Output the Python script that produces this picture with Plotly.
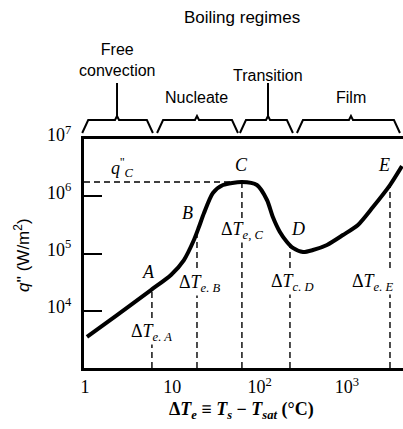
import numpy as np
import plotly.graph_objects as go

# ---- data ----
dT = [1.054, 2.33, 5.70, 9.66, 13.6, 17.7, 20.2, 23.1, 29.2, 38.1, 62.8, 93.3, 121.6,
      142, 171, 206, 241, 314, 409, 592, 902, 1340, 1991, 3119, 4276]
q = [3.48e3, 8.4e3, 2.30e4, 4.21e4, 7.69e4, 1.72e5, 2.90e5, 5.09e5, 1.14e6, 1.57e6,
     1.77e6, 1.57e6, 8.6e5, 4.35e5, 2.38e5, 1.59e5, 1.25e5, 1.06e5, 1.15e5, 1.41e5,
     2.10e5, 3.15e5, 6.49e5, 1.57e6, 3.37e6]

pt_names = ["A", "B", "C", "D", "E"]
pt_dT = [5.85, 19.2, 62.8, 223, 3119]
pt_q = [2.30e4, 2.3e5, 1.77e6, 1.35e5, 1.57e6]
pt_sub = ["e. A", "e. B", "e, C", "c. D", "e. E"]

regime_names = ["Free<br>convection", "Nucleate", "Transition", "Film"]
regime_lo = [0.93, 6.7, 59.6, 268]
regime_hi = [6.0, 56.6, 241, 4055]
regime_tip = [2.33, 19.2, 125, 1114]

y_tickvals = [1e4, 1e5, 1e6, 1e7]
y_ticktext = ["10<sup>4</sup>", "10<sup>5</sup>", "10<sup>6</sup>", "10<sup>7</sup>"]
x_tickvals = [1, 10, 100, 1000]
x_ticktext = ["1", "10", "10<sup>2</sup>", "10<sup>3</sup>"]

# ---- layout geometry ----
W, H = 403, 429
ML, MR, MT, MB = 84, 0, 139, 61
PW, PH = W - ML - MR, H - MT - MB
XR = [-0.011, 3.643]
YR = [3, 7]

def xp(v):
    return (np.log10(v) - XR[0]) / (XR[1] - XR[0])

def dxp(px):
    return px / PW

def yp_px(py):
    return (H - MB - py) / PH

serif = "Liberation Serif"
sans = "Liberation Sans"

fig = go.Figure()

# dashed vertical lines from bottom to curve
vx, vy = [], []
for x, y in zip(pt_dT, pt_q):
    vx += [x, x, None]
    vy += [1e3, y, None]
# q''_C horizontal
ic = pt_names.index("C")
vx += [10 ** XR[0], pt_dT[ic], None]
vy += [pt_q[ic], pt_q[ic], None]
fig.add_trace(go.Scatter(x=vx, y=vy, mode="lines",
                         line=dict(color="black", width=1.4, dash="6px,4px"),
                         hoverinfo="skip", showlegend=False))

# boiling curve
fig.add_trace(go.Scatter(x=dT, y=q, mode="lines",
                         line=dict(color="black", width=4, shape="spline", smoothing=0.7),
                         showlegend=False))

ann = []
C = dict(xanchor="center", yanchor="middle", showarrow=False)
# point letters
shifts = [(-3, 18), (-9, 20), (0, 17), (8, 17), (-6, 20)]
for n, x, y, (sx, sy) in zip(pt_names, pt_dT, pt_q, shifts):
    ann.append(dict(x=np.log10(x), y=np.log10(y), xref="x", yref="y", text=f"<i>{n}</i>",
                    xshift=sx, yshift=sy,
                    font=dict(family=serif, size=18, color="black"), **C))
# delta T labels
dt_pix_y = [332, 283, 230, 282, 282]
dt_xshift = [0, 3, 0, 3, -17]
for n, x, sub, py, sx in zip(pt_names, pt_dT, pt_sub, dt_pix_y, dt_xshift):
    ann.append(dict(x=np.log10(x), y=yp_px(py), xref="x", yref="paper",
                    text=f"Δ<i>T</i><sub><i>{sub}</i></sub>", xshift=sx,
                    bgcolor="white", borderpad=0,
                    font=dict(family=serif, size=18, color="black"), **C))
# q''_C label
ann.append(dict(x=xp(2.7), y=yp_px(167), xref="paper", yref="paper",
                text="<i>q</i><sup>''</sup><sub><i>C</i></sub>",
                font=dict(family=serif, size=18, color="black"), **C))

# braces
shapes = []
yb, yh, yt = yp_px(133), yp_px(120), yp_px(116)
for name, lo, hi, tip in zip(regime_names, regime_lo, regime_hi, regime_tip):
    a, b, t = xp(lo), xp(hi), xp(tip)
    path = (f"M {a} {yb} L {a + dxp(6)} {yh} L {t - dxp(2)} {yh} L {t} {yt} "
            f"L {t + dxp(2)} {yh} L {b - dxp(6)} {yh} L {b} {yb}")
    shapes.append(dict(type="path", path=path, xref="paper", yref="paper",
                       line=dict(color="black", width=2)))
    if "<br>" in name or name == "Transition":
        shapes.append(dict(type="line", xref="paper", yref="paper", x0=t, x1=t,
                           y0=yt, y1=yp_px(83), line=dict(color="black", width=2)))
        ly = yp_px(60) if "<br>" in name else yp_px(76)
        ann.append(dict(x=t, y=ly, xref="paper", yref="paper", text=name,
                        font=dict(family=sans, size=16, color="black"), **C))
    else:
        ann.append(dict(x=t, y=yp_px(98), xref="paper", yref="paper", text=name,
                        font=dict(family=sans, size=16, color="black"), **C))

ann.append(dict(x=dxp(242 - ML), y=yp_px(17), xref="paper", yref="paper",
                text="Boiling regimes",
                font=dict(family=sans, size=17, color="black"), **C))
# axis titles
ann.append(dict(x=dxp(22 - ML), y=yp_px(255), xref="paper", yref="paper",
                text="<i>q</i>'' (W/m<sup>2</sup>)", textangle=-90,
                font=dict(family=sans, size=17, color="black"), **C))
ann.append(dict(x=dxp(241 - ML), y=yp_px(410), xref="paper", yref="paper",
                text="<b>Δ<i>T</i><sub><i>e</i></sub> ≡ <i>T</i><sub><i>s</i></sub> − <i>T</i><sub><i>sat</i></sub> (°C)</b>",
                font=dict(family=serif, size=18, color="black"), **C))

fig.update_layout(
    width=W, height=H, margin=dict(l=ML, r=MR, t=MT, b=MB),
    paper_bgcolor="white", plot_bgcolor="white",
    annotations=ann, shapes=shapes, showlegend=False,
    xaxis=dict(type="log", range=XR, showgrid=False, zeroline=False,
               showline=True, linecolor="black", linewidth=2.5, mirror=True,
               ticks="", tickvals=x_tickvals, ticktext=x_ticktext,
               ticklabelstandoff=1,
               tickfont=dict(family=serif, size=18, color="black")),
    yaxis=dict(type="log", range=YR, showgrid=False, zeroline=False,
               showline=True, linecolor="black", linewidth=3,
               ticks="inside", ticklen=18, tickwidth=2, tickcolor="black",
               tickvals=y_tickvals, ticktext=y_ticktext, ticklabelstandoff=6,
               ticklabelshift=-4,
               tickfont=dict(family=serif, size=18, color="black")),
)

fig.write_html("out.html")
